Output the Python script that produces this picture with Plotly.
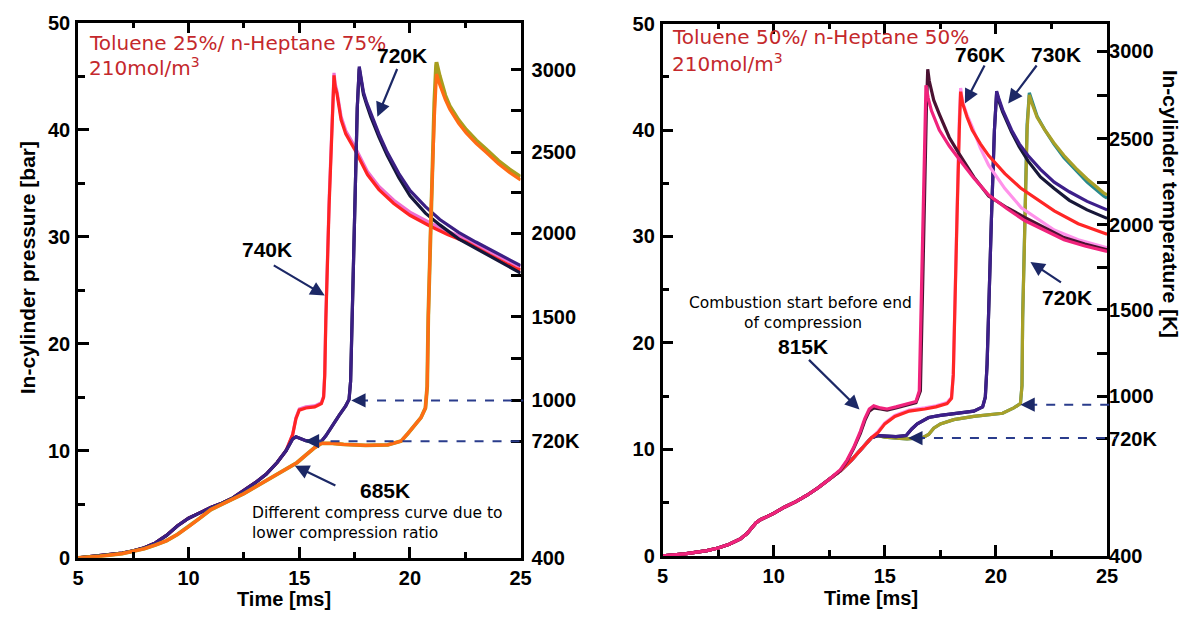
import plotly.graph_objects as go

# ---------------- data ----------------
X_MIN, X_MAX = 5, 25
P_MIN, P_MAX = 0, 50

# Left panel: Toluene 25% / n-Heptane 75%
L_comp_t = [5, 6, 7, 7.5, 8, 8.5, 9, 9.5, 9.8, 10, 10.5, 11, 11.5, 12, 12.5, 13, 13.5, 14, 14.4]
L_comp_p = [0, 0.2, 0.45, 0.65, 0.95, 1.4, 2.1, 3.0, 3.4, 3.7, 4.2, 4.7, 5.1, 5.6, 6.3, 7.0, 7.8, 8.9, 10.0]

L_red_t = [14.7, 14.85, 15.0, 15.3, 15.7, 16.0, 16.1, 16.15, 16.2, 16.35, 16.5, 16.57, 16.62, 16.7, 16.89,
           17.1, 17.49, 18.08, 18.6, 19.27, 20.0, 20.9, 21.7, 22.54, 23.6, 24.77, 25]
L_red_p = [11.5, 13.0, 13.8, 14.0, 14.1, 14.4, 15.0, 17.0, 22.2, 33.0, 42.0, 45.07, 44.0, 43.4, 40.9,
           39.6, 38.2, 35.8, 34.4, 33.1, 32.0, 31.0, 30.2, 29.5, 28.3, 27.05, 26.9]
L_pink_p = [11.5, 13.1, 13.9, 14.1, 14.2, 14.5, 15.1, 17.2, 22.5, 33.5, 42.3, 45.3, 44.3, 43.6, 41.2,
            39.9, 38.5, 36.1, 34.7, 33.4, 32.3, 31.3, 30.5, 29.8, 28.6, 27.35, 27.2]

L_ind_t = [14.7, 14.85, 15.0, 15.3, 15.7, 16.0, 16.2, 16.5, 16.8, 17.1, 17.25, 17.32, 17.38, 17.5, 17.62,
           17.71, 17.78, 17.9, 18.05, 18.23, 18.6, 18.97, 19.5, 20.01, 20.7, 21.35, 22.2, 22.98, 24.0, 25]
L_ind_p = [11.1, 11.3, 11.2, 10.95, 10.8, 10.9, 11.4, 12.4, 13.3, 14.2, 14.8, 16.5, 22.0, 33.0, 42.0,
           45.9, 45.0, 43.5, 42.5, 41.5, 39.6, 37.9, 35.9, 34.3, 32.8, 31.6, 30.4, 29.5, 28.4, 27.3]
L_nav_p = [11.1, 11.3, 11.2, 10.95, 10.8, 10.9, 11.4, 12.4, 13.3, 14.2, 14.8, 16.5, 22.0, 33.0, 42.0,
           45.7, 44.8, 43.3, 42.3, 41.2, 39.3, 37.6, 35.5, 33.8, 32.2, 31.1, 29.8, 28.9, 27.7, 26.6]

L_org_t = [5, 6, 7, 8, 8.5, 9, 9.5, 10, 10.5, 11, 11.5, 12, 12.5, 13, 13.5, 14, 14.5, 14.9, 15.3, 15.7,
           16.0, 16.5, 17.0, 18.0, 19.0, 19.6, 19.9, 20.2, 20.5, 20.7, 20.78, 20.83, 20.95, 21.1, 21.18,
           21.2, 21.35, 21.6, 21.8, 22.2, 22.54, 23.0, 23.43, 24.0, 24.5, 25]
L_org_p = [0, 0.15, 0.4, 0.85, 1.2, 1.6, 2.2, 2.9, 3.7, 4.5, 5.0, 5.5, 6.0, 6.6, 7.2, 7.8, 8.4, 8.9, 9.6, 10.3,
           10.7, 10.7, 10.6, 10.5, 10.55, 10.9, 11.6, 12.3, 13.1, 14.0, 16.0, 22.3, 32.0, 41.0, 44.8,
           45.2, 44.2, 42.8, 41.9, 40.6, 39.7, 38.7, 37.9, 36.8, 36.0, 35.3]
L_olv_p = [0, 0.15, 0.4, 0.85, 1.2, 1.6, 2.2, 2.9, 3.7, 4.5, 5.0, 5.5, 6.0, 6.6, 7.2, 7.8, 8.4, 8.9, 9.6, 10.3,
           10.7, 10.7, 10.6, 10.5, 10.55, 10.9, 11.6, 12.3, 13.1, 14.0, 16.0, 22.6, 33.0, 42.5, 46.0,
           46.3, 45.0, 43.2, 42.2, 40.9, 40.0, 39.0, 38.2, 37.1, 36.3, 35.6]

# Right panel: Toluene 50% / n-Heptane 50%
R_comp_t = [5, 6, 7, 7.5, 8, 8.5, 8.8, 9.0, 9.2, 9.4, 9.6, 10, 10.5, 11, 11.5, 12, 12.5, 12.8]
R_comp_p = [0, 0.2, 0.5, 0.75, 1.1, 1.6, 2.1, 2.6, 3.1, 3.4, 3.6, 4.0, 4.6, 5.1, 5.7, 6.4, 7.2, 7.7]
R_comp2_t = [13, 13.5, 14, 14.4]
R_comp2_p = [8.0, 9.0, 10.2, 11.1]

R_hot_t = [13.0, 13.3, 13.6, 13.9, 14.1, 14.3, 14.5, 14.8, 15.1, 15.5, 16.0, 16.4, 16.55, 16.62, 16.72, 16.8,
           16.85, 16.95, 17.1, 17.45, 17.9, 18.33, 19.0, 19.67, 20.5, 21.29, 22.2, 23.06, 24.0, 24.84, 25]
R_hot_p = [8.1, 9.0, 10.2, 11.7, 12.9, 13.8, 14.1, 13.9, 13.8, 14.0, 14.3, 14.5, 15.5, 22.0, 33.0, 40.0,
           44.2, 43.0, 41.8, 40.0, 38.5, 37.3, 35.5, 33.9, 32.6, 31.5, 30.6, 29.7, 29.1, 28.66, 28.6]
R_mar_t = [13.0, 13.3, 13.6, 13.9, 14.1, 14.3, 14.5, 14.8, 15.1, 15.5, 16.0, 16.4, 16.6, 16.68, 16.78, 16.87,
           16.93, 17.0, 17.2, 17.45, 17.9, 18.33, 19.0, 19.67, 20.5, 21.29, 22.2, 23.06, 24.0, 24.84, 25]
R_mar_p = [8.0, 8.9, 10.1, 11.5, 12.7, 13.6, 13.9, 13.8, 13.7, 13.9, 14.2, 14.4, 15.5, 22.0, 33.0, 42.0,
           45.7, 44.6, 42.8, 41.5, 39.3, 37.8, 35.6, 33.8, 32.7, 31.8, 30.8, 29.9, 29.3, 28.8, 28.75]

R_red_t = [14.7, 15.0, 15.45, 16.1, 16.8, 17.3, 17.8, 18.0, 18.08, 18.13, 18.25, 18.35, 18.41, 18.5, 18.7,
           18.93, 19.3, 19.67, 20.4, 21.14, 21.9, 22.62, 23.7, 24.84, 25]
R_red_p = [11.6, 12.4, 13.1, 13.6, 13.8, 14.0, 14.3, 14.8, 17.0, 22.2, 32.0, 40.0, 43.6, 42.5, 41.2,
           40.0, 38.7, 37.6, 35.9, 34.5, 33.4, 32.4, 31.2, 30.3, 30.2]
R_lpk_t = [14.7, 15.0, 15.45, 16.1, 16.8, 17.3, 17.8, 18.0, 18.06, 18.11, 18.22, 18.31, 18.37, 18.5, 18.7,
           18.93, 19.3, 19.67, 20.4, 21.14, 21.9, 22.62, 23.7, 24.84, 25]
R_lpk_p = [11.7, 12.5, 13.2, 13.7, 13.9, 14.1, 14.4, 14.9, 17.0, 22.2, 32.5, 41.0, 43.95, 42.6, 41.4,
           40.3, 38.3, 36.7, 34.5, 32.7, 31.6, 30.6, 29.7, 29.0, 28.95]

R_ind_t = [14.7, 15.0, 15.5, 15.96, 16.2, 16.46, 16.97, 17.5, 18.1, 19.0, 19.4, 19.52, 19.6, 19.67, 19.8,
           19.93, 20.03, 20.12, 20.3, 20.7, 21.05, 21.44, 22.0, 22.62, 23.3, 24.1, 24.84, 25]
R_ind_p = [11.3, 11.25, 11.2, 11.3, 11.9, 12.4, 13.0, 13.2, 13.35, 13.6, 14.0, 14.9, 18.0, 22.2, 32.0,
           40.0, 43.65, 43.0, 41.9, 40.0, 38.7, 37.6, 36.3, 35.1, 34.2, 33.3, 32.6, 32.5]
R_nav_p = [11.3, 11.25, 11.2, 11.3, 11.9, 12.4, 13.0, 13.2, 13.35, 13.6, 14.0, 14.9, 18.0, 22.2, 32.0,
           40.0, 43.5, 42.8, 41.7, 39.8, 38.4, 37.1, 35.6, 34.5, 33.4, 32.5, 31.8, 31.7]

R_olv_t = [14.7, 15.0, 15.5, 16.0, 16.7, 16.97, 17.2, 17.5, 18.1, 19.0, 20.3, 20.8, 21.1, 21.17, 21.2, 21.3,
           21.4, 21.5, 21.6, 21.85, 22.2, 22.6, 23.06, 23.6, 24.1, 24.84, 25]
R_olv_p = [11.3, 11.15, 11.05, 11.0, 11.1, 11.4, 12.0, 12.4, 12.8, 13.1, 13.4, 13.9, 14.3, 16.0, 22.2, 32.0,
           40.0, 43.3, 42.6, 41.2, 40.0, 38.8, 37.6, 36.4, 35.4, 34.1, 33.9]
R_teal_p = [11.3, 11.15, 11.05, 11.0, 11.1, 11.4, 12.0, 12.4, 12.8, 13.1, 13.4, 13.9, 14.3, 16.0, 22.4, 32.5,
            40.5, 43.5, 42.8, 41.3, 40.0, 38.7, 37.4, 36.2, 35.1, 33.8, 33.6]

# temperature scale: tick labels and the pressure values they sit at
L_temp_pos = [0, 10.9, 14.7, 18.6, 22.5, 26.4, 30.3, 34.1, 37.9, 41.8, 45.6]
R_temp_pos = [0, 11.0, 15.0, 19.0, 23.1, 27.1, 31.1, 35.1, 39.2, 43.2, 47.4]
TEMP_TEXT = ["400", "720K", "1000", "", "1500", "", "2000", "", "2500", "", "3000"]

# marker levels (pressure) and arrow tips (time) for the dashed guides
L_guides = [(14.7, 17.35), (10.9, 15.25)]
R_guides = [(14.2, 21.1), (11.07, 16.05)]

# ---------------- styling ----------------
BLACK = "black"
ARROW = "#1c2866"
DASH = "#2a3c8c"
TITLE_RED = "#c4282c"
TICKFONT = dict(family="Liberation Sans", size=20, color=BLACK, weight="bold")
LABEL_FONT = dict(family="Liberation Sans", size=21, color=BLACK, weight="bold")
XTITLE_FONT = dict(family="Liberation Sans", size=20, color=BLACK, weight="bold")
NOTE_FONT = dict(family="DejaVu Sans", size=15.5, color=BLACK)
HEAD_FONT = dict(family="DejaVu Sans", size=20, color=TITLE_RED)

fig = go.Figure()


def add_line(t, p, color, xa, ya, width=3.2):
    fig.add_trace(go.Scatter(x=t, y=p, mode="lines", xaxis=xa, yaxis=ya,
                             line=dict(color=color, width=width),
                             showlegend=False, hoverinfo="skip"))


# left panel curves
add_line(L_comp_t + L_red_t, L_comp_p + L_pink_p, "#ee6fd0", "x", "y")
add_line(L_comp_t + L_red_t, L_comp_p + L_red_p, "#ff2323", "x", "y")
add_line(L_comp_t + L_ind_t, L_comp_p + L_nav_p, "#15173a", "x", "y")
add_line(L_comp_t + L_ind_t, L_comp_p + L_ind_p, "#3b1f84", "x", "y")
add_line(L_org_t, L_olv_p, "#a89e1e", "x", "y", 3.8)
add_line(L_org_t, L_org_p, "#ff6c14", "x", "y", 3.2)

# right panel curves
R_base_t = R_comp_t + R_comp2_t
R_base_p = R_comp_p + R_comp2_p
add_line(R_base_t + R_olv_t, R_base_p + R_teal_p, "#2b8a8c", "x2", "y2")
add_line(R_base_t + R_olv_t, R_base_p + R_olv_p, "#a8a028", "x2", "y2")
add_line(R_base_t + R_ind_t, R_base_p + R_nav_p, "#181838", "x2", "y2")
add_line(R_base_t + R_ind_t, R_base_p + R_ind_p, "#3d1f8a", "x2", "y2")
add_line(R_base_t + R_red_t, R_base_p + R_lpk_p, "#ff92ea", "x2", "y2")
add_line(R_base_t + R_red_t, R_base_p + R_red_p, "#ff2626", "x2", "y2")
add_line(R_comp_t + R_mar_t, R_comp_p + R_mar_p, "#4a1232", "x2", "y2")
add_line(R_comp_t + R_hot_t, R_comp_p + R_hot_p, "#f0237c", "x2", "y2")

# empty traces so the temperature axes are drawn
for xa, ya in (("x", "y3"), ("x2", "y4")):
    fig.add_trace(go.Scatter(x=[None], y=[None], xaxis=xa, yaxis=ya,
                             showlegend=False, hoverinfo="skip"))

# ---------------- axes ----------------
W, H = 1196, 619
L_x_dom = [73 / W, 522 / W]
L_y_dom = [1 - 567 / H, 1 - 12 / H]
R_x_dom = [666 / W, 1117 / W]
R_y_dom = [1 - 565 / H, 1 - 13 / H]


def time_axis(dom, anchor):
    return dict(domain=dom, anchor=anchor, range=[X_MIN, X_MAX], showline=True, linewidth=2.5,
                linecolor=BLACK, mirror="ticks", ticks="inside", ticklen=11, tickwidth=2.5,
                tickcolor=BLACK, tick0=5, dtick=5, showgrid=False, zeroline=False,
                minor=dict(dtick=2.5, ticks="inside", ticklen=6, tickwidth=2.5, tickcolor=BLACK),
                tickfont=TICKFONT, ticklabelstandoff=0, fixedrange=True)


def pressure_axis(dom, anchor):
    return dict(domain=dom, anchor=anchor, range=[P_MIN, P_MAX], showline=True, linewidth=2.5,
                linecolor=BLACK, mirror=True, ticks="inside", ticklen=11, tickwidth=2.5,
                tickcolor=BLACK, tick0=0, dtick=10, showgrid=False, zeroline=False,
                minor=dict(dtick=5, ticks="inside", ticklen=7, tickwidth=2.5, tickcolor=BLACK),
                tickfont=TICKFONT, ticklabelstandoff=1, fixedrange=True)


def temp_axis(over, anchor, pos, standoff):
    return dict(overlaying=over, anchor=anchor, side="right", range=[P_MIN, P_MAX],
                tickmode="array", tickvals=pos, ticktext=TEMP_TEXT, ticks="inside",
                ticklen=10, tickwidth=2.5, tickcolor=BLACK, showline=False, showgrid=False,
                zeroline=False, tickfont=TICKFONT, ticklabelstandoff=standoff, fixedrange=True)


fig.update_layout(
    width=W, height=H, margin=dict(l=0, r=0, t=0, b=0),
    paper_bgcolor="white", plot_bgcolor="white", showlegend=False,
    xaxis=time_axis(L_x_dom, "y"), yaxis=pressure_axis(L_y_dom, "x"),
    xaxis2=time_axis(R_x_dom, "y2"), yaxis2=pressure_axis(R_y_dom, "x2"),
    yaxis3=temp_axis("y", "x", L_temp_pos, 10),
    yaxis4=temp_axis("y2", "x2", R_temp_pos, 1),
)

# ---------------- annotations ----------------
ann = []


def text(s, x, y, font, xa="x", ya="y", xanchor="center", angle=0):
    ann.append(dict(text=s, x=x, y=y, xref=xa, yref=ya, showarrow=False, font=font,
                    xanchor=xanchor, yanchor="middle", textangle=angle, borderpad=0))


def arrow(tail, head, xa="x", ya="y"):
    ann.append(dict(text="", x=head[0], y=head[1], ax=tail[0], ay=tail[1], xref=xa, yref=ya,
                    axref=xa, ayref=ya, showarrow=True, arrowhead=2, arrowsize=1.3,
                    arrowwidth=2.2, arrowcolor=ARROW))


# left panel labels
text("Toluene 25%/ n-Heptane 75%", 5.45, 48.1, HEAD_FONT, xanchor="left")
text("210mol/m<sup>3</sup>", 5.45, 45.85, HEAD_FONT, xanchor="left")
text("720K", 19.64, 46.9, LABEL_FONT)
arrow((19.45, 45.8), (18.53, 41.2))
text("740K", 13.53, 28.8, LABEL_FONT)
arrow((13.78, 27.4), (16.15, 24.5))
text("685K", 18.87, 6.3, LABEL_FONT)
arrow((16.7, 6.7), (14.8, 8.6))
text("Different compress curve due to", 12.83, 4.23, NOTE_FONT, xanchor="left")
text("lower compression ratio", 12.83, 2.28, NOTE_FONT, xanchor="left")

# right panel labels
text("Toluene 50%/ n-Heptane 50%", 5.4, 48.7, HEAD_FONT, "x2", "y2", xanchor="left")
text("210mol/m<sup>3</sup>", 5.4, 46.3, HEAD_FONT, "x2", "y2", xanchor="left")
text("760K", 19.28, 47.06, LABEL_FONT, "x2", "y2")
arrow((19.52, 46.2), (18.6, 42.5), "x2", "y2")
text("730K", 22.7, 47.06, LABEL_FONT, "x2", "y2")
arrow((21.88, 46.2), (20.55, 42.5), "x2", "y2")
text("720K", 23.2, 24.3, LABEL_FONT, "x2", "y2")
arrow((22.99, 25.6), (21.55, 27.6), "x2", "y2")
text("Combustion start before end", 11.21, 23.8, NOTE_FONT, "x2", "y2")
text("of compression", 11.34, 21.9, NOTE_FONT, "x2", "y2")
text("815K", 11.3, 19.7, LABEL_FONT, "x2", "y2")
arrow((11.52, 18.55), (13.86, 13.75), "x2", "y2")

# axis titles
text("In-cylinder pressure [bar]", 22 / W, 1 - 266 / H, LABEL_FONT, "paper", "paper", angle=-90)
text("Time [ms]", 282 / W, 1 - 610 / H, XTITLE_FONT, "paper", "paper")
text("Time [ms]", 877 / W, 1 - 609 / H, XTITLE_FONT, "paper", "paper")
text("In-cylinder temperature [K]", 1181 / W, 1 - 200 / H, LABEL_FONT, "paper", "paper", angle=90)

# dashed guides from the temperature axis to the curves
shapes = []


def guide(level, tip, xa, ya, end):
    xd = lambda t: (t - X_MIN) / (X_MAX - X_MIN)
    shapes.append(dict(type="line", xref=xa + " domain", yref=ya + " domain",
                       x0=xd(tip + 0.35), x1=end, y0=level / P_MAX, y1=level / P_MAX,
                       line=dict(color=DASH, width=2, dash="dash")))
    ann.append(dict(text="", x=tip, y=level, ax=tip + 0.45, ay=level, xref=xa, yref=ya,
                    axref=xa, ayref=ya, showarrow=True, arrowhead=2, arrowsize=1.3,
                    arrowwidth=2.2, arrowcolor=ARROW))


for lvl, tip in L_guides:
    guide(lvl, tip, "x", "y", 1.006)
for lvl, tip in R_guides:
    guide(lvl, tip, "x2", "y2", 1.02)

fig.update_layout(annotations=ann, shapes=shapes)
fig.write_html("out.html")
